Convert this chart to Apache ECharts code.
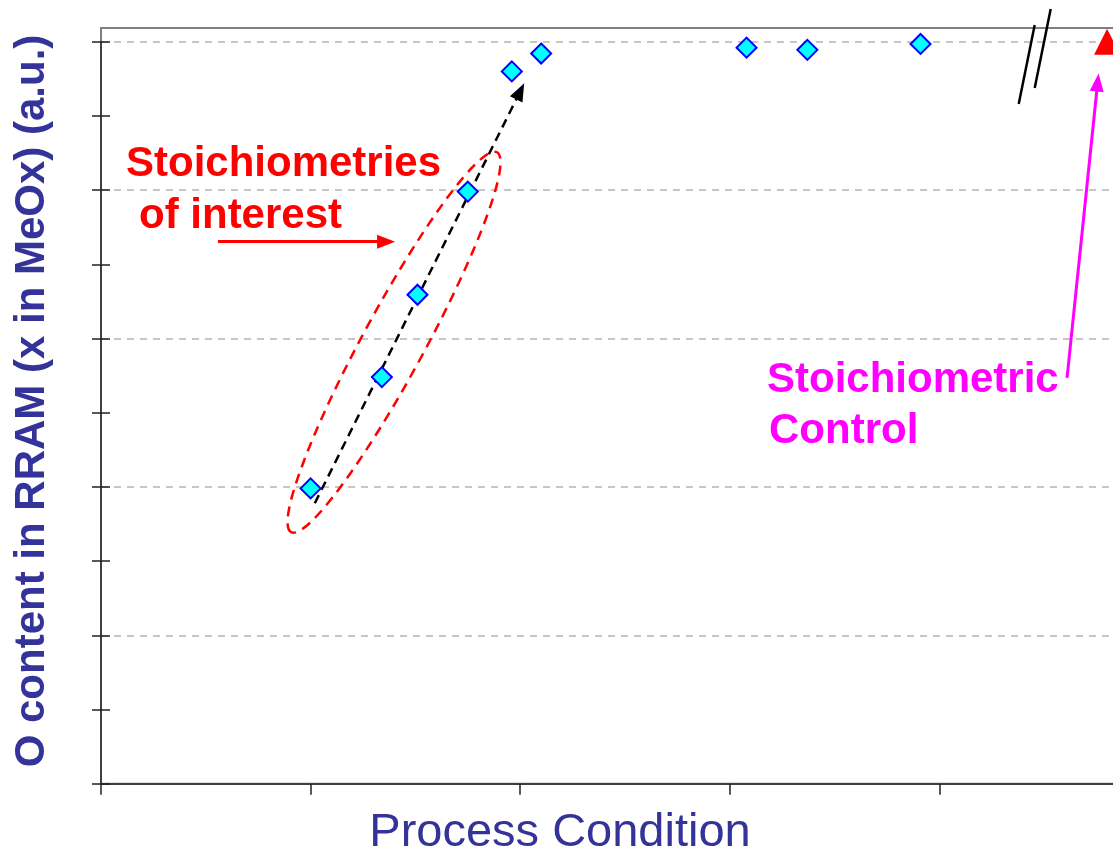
<!DOCTYPE html>
<html><head><meta charset="utf-8">
<script src="https://cdn.jsdelivr.net/npm/echarts@6/dist/echarts.min.js"></script>
<style>html,body{margin:0;padding:0;background:#fff}#c{width:1113px;height:852px}</style>
</head><body><div id="c"></div>
<script>
// ---- data ----
const processX = [1.00, 1.34, 1.51, 1.75, 1.96, 2.10, 3.08, 3.37, 3.91];
const oContent = [3.98, 5.48, 6.59, 7.98, 9.60, 9.84, 9.92, 9.89, 9.97];
const controlX = [4.80];
const controlY = [10.0];
const xTickValues = [0, 1, 2, 3, 4, 5];
const yTickValues = [0, 1, 2, 3, 4, 5, 6, 7, 8, 9, 10];
const xTitle = 'Process Condition';
const yTitle = 'O content in RRAM (x in MeOx) (a.u.)';
const noteInterest = ['Stoichiometries', 'of interest'];
const noteControl = ['Stoichiometric', 'Control'];
// annotation geometry, in data units
const trendArrow = [[1.02, 3.78], [2.00, 9.33]];
const interestEllipseAxis = [[0.907, 3.39], [1.889, 8.51]];
const interestArrow = [[0.558, 7.305], [1.36, 7.305]];
const controlArrow = [[4.609, 5.469], [4.755, 9.45]];

const chart = echarts.init(document.getElementById('c'), null, {renderer: 'canvas'});
const AX = '#404040';
const gridPos = {left: 101, right: -36, bottom: 68.3, containLabel: false, outerBoundsMode: 'none'};

const option = {
  backgroundColor: '#ffffff',
  animation: false,
  grid: [
    Object.assign({top: 41.7, show: false}, gridPos),
    Object.assign({top: 28, show: true, borderColor: '#808080', borderWidth: 2, backgroundColor: 'transparent'}, gridPos)
  ],
  xAxis: [
    {gridIndex: 0, type: 'value', min: xTickValues[0], max: xTickValues[xTickValues.length - 1], interval: 1,
     axisLine: {show: true, onZero: false, lineStyle: {color: AX, width: 2}},
     axisTick: {show: true, inside: false, length: 11, lineStyle: {color: '#222', width: 1.5}},
     axisLabel: {show: false}, splitLine: {show: false}},
    {gridIndex: 1, type: 'value', show: false, min: 0, max: 5}
  ],
  yAxis: [
    {gridIndex: 0, type: 'value', position: 'left', min: yTickValues[0], max: yTickValues[yTickValues.length - 1], interval: 1,
     axisLine: {show: true, onZero: false, lineStyle: {color: AX, width: 2}},
     axisTick: {show: true, inside: true, length: 9, lineStyle: {color: '#222', width: 1.5}},
     axisLabel: {show: false}, splitLine: {show: false}},
    {gridIndex: 0, type: 'value', position: 'left', min: 0, max: 10, interval: 1,
     axisLine: {show: false}, axisTick: {show: true, inside: false, length: 9, lineStyle: {color: '#222', width: 1.5}},
     axisLabel: {show: false}, splitLine: {show: false}},
    {gridIndex: 0, type: 'value', position: 'left', min: 0, max: 10, interval: 2,
     axisLine: {show: false}, axisTick: {show: false}, axisLabel: {show: false},
     splitLine: {show: true, lineStyle: {color: '#b4b4b4', width: 1.5, type: [7, 6]}}},
    {gridIndex: 1, type: 'value', show: false, min: 0, max: 10}
  ],
  series: [
    {
      type: 'scatter', xAxisIndex: 0, yAxisIndex: 0, z: 5,
      symbol: 'diamond', symbolSize: 20,
      itemStyle: {color: '#00ffff', borderColor: '#0000ff', borderWidth: 2, opacity: 1},
      data: processX.map((x, i) => [x, oContent[i]]),
      clip: false,
      markLine: {
        silent: true, animation: false, symbol: ['none', 'triangle'], symbolSize: [14, 18],
        label: {show: false}, emphasis: {disabled: true},
        data: [
          [{coord: trendArrow[0], lineStyle: {color: '#000000', width: 2.5, type: [9, 6], opacity: 1}}, {coord: trendArrow[1]}],
          [{coord: interestArrow[0], lineStyle: {color: '#ff0000', width: 3, type: 'solid', opacity: 1}}, {coord: interestArrow[1]}],
          [{coord: controlArrow[0], lineStyle: {color: '#ff00ff', width: 3, type: 'solid', opacity: 1}}, {coord: controlArrow[1]}]
        ]
      }
    },
    {
      type: 'scatter', xAxisIndex: 0, yAxisIndex: 0, z: 5, clip: false,
      symbol: 'triangle', symbolSize: [26, 26],
      itemStyle: {color: '#ff0000', opacity: 1},
      data: controlX.map((x, i) => [x, controlY[i]])
    }
  ]
};
chart.setOption(option);

const toPx = v => chart.convertToPixel({xAxisIndex: 0, yAxisIndex: 0}, v);
const e0 = toPx(interestEllipseAxis[0]), e1 = toPx(interestEllipseAxis[1]);
const ecx = (e0[0] + e1[0]) / 2, ecy = (e0[1] + e1[1]) / 2;
const semiMajor = Math.hypot(e1[0] - e0[0], e1[1] - e0[1]) / 2;
const ang = Math.atan2(e0[1] - e1[1], e1[0] - e0[0]);

const boldNote = 'bold 42px "Liberation Sans", Arial, sans-serif';
chart.setOption({
  graphic: [
    {type: 'ellipse', x: ecx, y: ecy, rotation: ang, z: 3,
     shape: {cx: 0, cy: 0, rx: semiMajor, ry: 31},
     style: {fill: 'none', stroke: '#ff0000', lineWidth: 2.5, lineDash: [10, 7]}},
    {type: 'line', z: 10, shape: {x1: 1034.7, y1: 25, x2: 1018.7, y2: 104}, style: {stroke: '#000', lineWidth: 2.5}},
    {type: 'line', z: 10, shape: {x1: 1050.7, y1: 9, x2: 1034.7, y2: 88}, style: {stroke: '#000', lineWidth: 2.5}},
    {type: 'text', x: 126, y: 164, z: 10, style: {text: noteInterest[0], font: boldNote, fill: '#ff0000', textAlign: 'left', textVerticalAlign: 'middle'}},
    {type: 'text', x: 139, y: 216, z: 10, style: {text: noteInterest[1], font: boldNote, fill: '#ff0000', textAlign: 'left', textVerticalAlign: 'middle'}},
    {type: 'text', x: 767, y: 380, z: 10, style: {text: noteControl[0], font: boldNote, fill: '#ff00ff', textAlign: 'left', textVerticalAlign: 'middle'}},
    {type: 'text', x: 769, y: 431, z: 10, style: {text: noteControl[1], font: boldNote, fill: '#ff00ff', textAlign: 'left', textVerticalAlign: 'middle'}},
    {type: 'text', x: 32, y: 401, rotation: Math.PI / 2, z: 10,
     style: {text: yTitle, font: 'bold 42px "Liberation Sans", Arial, sans-serif', fill: '#333399', textAlign: 'center', textVerticalAlign: 'middle'}},
    {type: 'text', x: 560, y: 833, z: 10,
     style: {text: xTitle, font: '47px "Liberation Sans", Arial, sans-serif', fill: '#333399', textAlign: 'center', textVerticalAlign: 'middle'}}
  ]
});
</script>
</body></html>
